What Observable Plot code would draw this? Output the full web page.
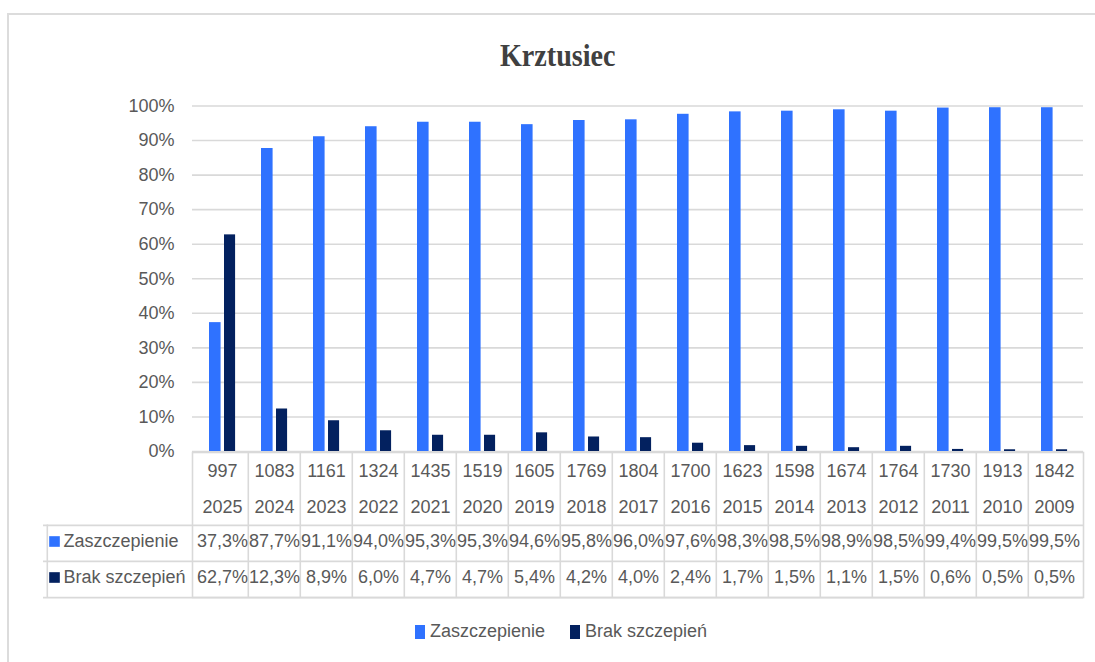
<!DOCTYPE html>
<html>
<head>
<meta charset="utf-8">
<script src="https://cdn.jsdelivr.net/npm/d3@7"></script>
<script src="https://cdn.jsdelivr.net/npm/@observablehq/plot@0.6"></script>
<style>
  body { margin: 0; background: #fff; width: 1095px; height: 662px; overflow: hidden; position: relative; font-family: "Liberation Sans", Arial, sans-serif; }
  #frame { position: absolute; left: 7px; top: 13px; width: 1200px; height: 800px; border-top: 2px solid #dcdcdc; border-left: 2px solid #dcdcdc; box-sizing: border-box; }
  #title { position: absolute; left: 10px; width: 1095px; top: 37px; text-align: center; font-family: "Liberation Serif", serif; font-weight: bold; font-size: 32px; color: #404040; }
  #title span { display: inline-block; transform: scaleX(0.88); }
  #chart { position: absolute; left: 0; top: 80px; }
  #table { position: absolute; left: 0; top: 451px; }
  #legend { position: absolute; left: 415px; top: 621px; display: flex; align-items: center; font-size: 18px; color: #595959; white-space: nowrap; }
  #legend .sw { display: inline-block; width: 10px; height: 14px; margin-right: 5px; }
  #legend .item { display: flex; align-items: center; margin-right: 25px; }
</style>
</head>
<body>
<div id="frame"></div>
<div id="title"><span>Krztusiec</span></div>
<div id="chart"></div>
<div id="table"></div>
<div id="legend"></div>
<script>
// ---- data ----
const years = [2025, 2024, 2023, 2022, 2021, 2020, 2019, 2018, 2017, 2016, 2015, 2014, 2013, 2012, 2011, 2010, 2009];
const counts = [997, 1083, 1161, 1324, 1435, 1519, 1605, 1769, 1804, 1700, 1623, 1598, 1674, 1764, 1730, 1913, 1842];
const zaszczepienie = [37.3, 87.7, 91.1, 94.0, 95.3, 95.3, 94.6, 95.8, 96.0, 97.6, 98.3, 98.5, 98.9, 98.5, 99.4, 99.5, 99.5];
const brakSzczepien = [62.7, 12.3, 8.9, 6.0, 4.7, 4.7, 5.4, 4.2, 4.0, 2.4, 1.7, 1.5, 1.1, 1.5, 0.6, 0.5, 0.5];
const seriesNames = ["Zaszczepienie", "Brak szczepień"];
const yTicks = [0, 10, 20, 30, 40, 50, 60, 70, 80, 90, 100];

// ---- styling ----
const colors = ["#2f72ff", "#03215f"];
const textColor = "#595959";
const lineColor = "#d9d9d9";
const W = 1095, ML = 192, MR = 12;
const bw = (W - ML - MR) / years.length;

const rows = years.map((y, i) => ({year: y, count: counts[i], z: zaszczepienie[i], b: brakSzczepien[i]}));
const fmt = v => v.toFixed(1).replace(".", ",") + "%";

const baseStyle = {fontFamily: "'Liberation Sans', Arial, sans-serif", fontSize: "18px", color: textColor, background: "transparent", overflow: "visible"};

// ---- chart ----
const chart = Plot.plot({
  width: W, height: 386,
  marginTop: 25.5, marginBottom: 15, marginLeft: ML, marginRight: MR,
  style: baseStyle,
  x: {type: "band", domain: years, padding: 0, axis: null},
  y: {domain: [0, 100], axis: null},
  marks: [
    Plot.gridY(yTicks, {stroke: lineColor, strokeOpacity: 1, strokeWidth: 1.6}),
    Plot.axisY(yTicks, {tickFormat: d => d + "%", tickSize: 0, tickPadding: 18, fontSize: 18, fill: textColor, label: null}),
    Plot.barY(rows, {x: "year", y: "z", fill: colors[0], insetLeft: 13, insetRight: bw - 25}),
    Plot.barY(rows, {x: "year", y: "b", fill: colors[1], insetLeft: 28, insetRight: bw - 39.5})
  ]
});
document.getElementById("chart").append(chart);

// ---- data table under the chart ----
const rowKeys = ["n", "year", "z", "b"];
const TH = 145;
const bh = TH / rowKeys.length;
const headerRows = [{key: "z", label: seriesNames[0], color: colors[0]}, {key: "b", label: seriesNames[1], color: colors[1]}];

const table = Plot.plot({
  width: W, height: TH + 2,
  marginTop: 1, marginBottom: 1, marginLeft: ML, marginRight: MR,
  style: baseStyle,
  x: {type: "band", domain: years, padding: 0, axis: null},
  y: {type: "band", domain: rowKeys, padding: 0, axis: null},
  marks: [
    Plot.frame({stroke: lineColor, strokeWidth: 1.6}),
    Plot.ruleX(years.slice(1), {x: d => d, dx: -bw / 2, stroke: lineColor, strokeWidth: 1.6}),
    Plot.ruleY(["z", "b"], {y: d => d, dy: -bh / 2, insetLeft: -(ML - 43), stroke: lineColor, strokeWidth: 1.6}),
    Plot.ruleY(["b"], {y: d => d, dy: bh / 2, insetLeft: -(ML - 43), stroke: lineColor, strokeWidth: 1.6}),
    Plot.ruleX([years[0]], {x: d => d, dx: -bw / 2 - (ML - 43), insetTop: 2 * bh, stroke: lineColor, strokeWidth: 1.6}),
    Plot.text(rows, {x: "year", y: () => "n", text: d => String(d.count), fill: textColor, fontSize: 18}),
    Plot.text(rows, {x: "year", y: () => "year", text: d => String(d.year), fill: textColor, fontSize: 18}),
    Plot.text(rows, {x: "year", y: () => "z", text: d => fmt(d.z), fill: textColor, fontSize: 18, dy: -2}),
    Plot.text(rows, {x: "year", y: () => "b", text: d => fmt(d.b), fill: textColor, fontSize: 18, dy: -2}),
    Plot.dot(headerRows, {y: "key", frameAnchor: "left", dx: 54 - ML, dy: -2, symbol: "square", r: 6, fill: "color", stroke: null}),
    Plot.text(headerRows, {y: "key", text: "label", frameAnchor: "left", textAnchor: "start", dx: 63 - ML, dy: -2, fill: textColor, fontSize: 18})
  ]
});
document.getElementById("table").append(table);

// ---- legend ----
const legend = document.getElementById("legend");
seriesNames.forEach((name, i) => {
  const item = document.createElement("span");
  item.className = "item";
  const sw = document.createElement("span");
  sw.className = "sw";
  sw.style.background = colors[i];
  const label = document.createElement("span");
  label.textContent = name;
  item.append(sw, label);
  legend.append(item);
});
</script>
</body>
</html>
